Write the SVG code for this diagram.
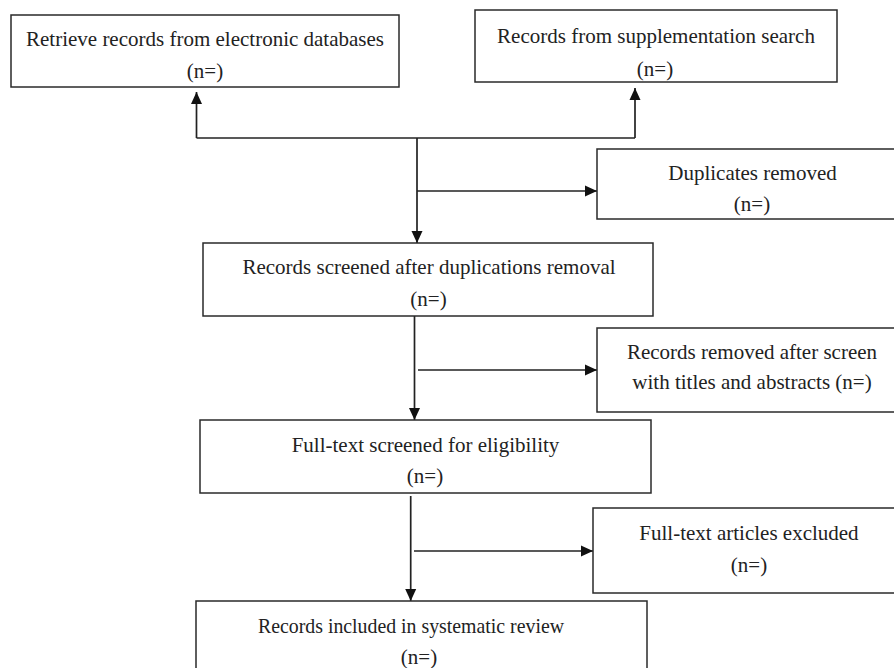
<svg xmlns="http://www.w3.org/2000/svg" width="894" height="668" viewBox="0 0 894 668">
<defs>
<style>
.box{fill:#fff;stroke:#2a2a2a;stroke-width:1.5}
.t{font-size:21px;fill:#222;text-anchor:middle}
.c{fill:none;stroke:#222;stroke-width:1.7}
.a{marker-end:url(#ah)}
</style>
<marker id="ah" markerUnits="userSpaceOnUse" markerWidth="13" markerHeight="12" refX="12" refY="5.5" orient="auto" viewBox="0 0 13 11">
<path d="M0,0 L12,5.5 L0,11 z" fill="#111"/>
</marker>
</defs>
<rect width="894" height="668" fill="#fff"/>
<g id="connectors">
<path class="c" d="M196.5,138 L635,138"/>
<path class="c a" d="M196.5,138 L196.5,92"/>
<path class="c a" d="M635,138 L635,88"/>
<path class="c a" d="M417,138 L417,243"/>
<path class="c a" d="M417,191 L597,191"/>
<path class="c a" d="M414.5,316 L414.5,420"/>
<path class="c a" d="M418,370 L597,370"/>
<path class="c a" d="M410.7,496 L410.7,601"/>
<path class="c a" d="M414,551 L593,551"/>
</g>
<g font-family="Liberation Serif, Times New Roman, serif">
<g id="n1">
<rect class="box" x="11" y="15" width="388" height="72"/>
<text class="t" x="205" y="46">Retrieve records from electronic databases</text>
<text class="t" x="205" y="78">(n=)</text>
</g>
<g id="n2">
<rect class="box" x="475" y="10" width="362" height="72"/>
<text class="t" x="656" y="43">Records from supplementation search</text>
<text class="t" x="655" y="76">(n=)</text>
</g>
<g id="n3">
<rect class="box" x="597" y="149" width="311" height="70"/>
<text class="t" x="752.5" y="180">Duplicates removed</text>
<text class="t" x="752" y="211">(n=)</text>
</g>
<g id="n4">
<rect class="box" x="203" y="243" width="450" height="73"/>
<text class="t" x="429" y="274">Records screened after duplications removal</text>
<text class="t" x="428.5" y="306">(n=)</text>
</g>
<g id="n5">
<rect class="box" x="597" y="328" width="311" height="84"/>
<text class="t" x="752" y="359">Records removed after screen</text>
<text class="t" x="752" y="389">with titles and abstracts (n=)</text>
</g>
<g id="n6">
<rect class="box" x="200" y="420" width="451" height="73"/>
<text class="t" x="425.5" y="452">Full-text screened for eligibility</text>
<text class="t" x="425" y="483">(n=)</text>
</g>
<g id="n7">
<rect class="box" x="593" y="508" width="312" height="85"/>
<text class="t" x="749" y="540">Full-text articles excluded</text>
<text class="t" x="749" y="572">(n=)</text>
</g>
<g id="n8">
<rect class="box" x="196" y="601" width="451" height="80"/>
<text class="t" x="411" y="633" textLength="306" lengthAdjust="spacingAndGlyphs">Records included in systematic review</text>
<text class="t" x="419" y="664">(n=)</text>
</g>
</g>
</svg>
